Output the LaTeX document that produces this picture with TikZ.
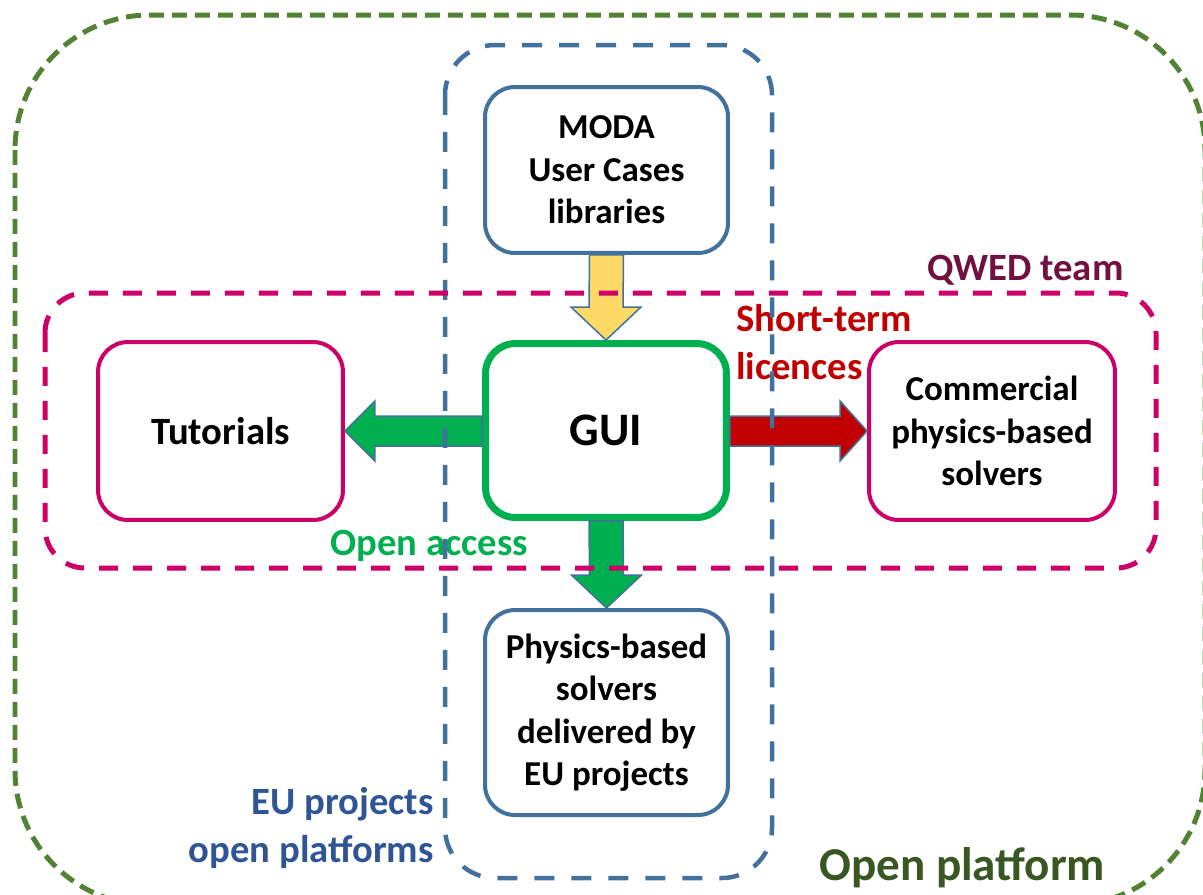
\documentclass[tikz,border=0pt]{standalone}
\usepackage{fontspec}
\setmainfont{Carlito}
\usetikzlibrary{
  calc,
  positioning
}
\definecolor{platgreen}{HTML}{548235}
\definecolor{platdark}{HTML}{385723}
\definecolor{eublue}{HTML}{41719C}
\definecolor{eutext}{HTML}{2F5597}
\definecolor{qwedpink}{HTML}{CC0066}
\definecolor{qwedtext}{HTML}{72103F}
\definecolor{guigreen}{HTML}{00B050}
\definecolor{licred}{HTML}{C00000}
\definecolor{modayellow}{HTML}{FFD966}
\tikzset{
  x = 0.02cm,
  y = -0.02cm,
  box/.style = {draw, fill=white, line width=0.08cm, rounded corners=0.6cm,
                align=center, inner sep=0pt,
                font=\bfseries\fontsize{19.9}{24.2}\selectfont},
  fat arrow/.style = {draw=eublue, line width=0.03cm, line join=miter},
  label text/.style = {inner sep=0pt, font=\bfseries\fontsize{22}{27.5}\selectfont},
}
\begin{document}
\begin{tikzpicture}
\useasboundingbox (0,0) rectangle (1203,894);
% boxes
\node (moda)[box, draw=eublue, minimum width=4.86cm, minimum height=3.32cm]
      at (606.5,170) {MODA\\User Cases\\libraries};
\node (gui)[box, draw=guigreen, line width=0.14cm, minimum width=4.82cm, minimum height=3.48cm,
      font=\bfseries\fontsize{26.5}{32}\selectfont] at (606,430.5) {GUI};
\node (tut)[box, draw=qwedpink, minimum width=4.9cm, minimum height=3.56cm,
      font=\bfseries\fontsize{22}{27}\selectfont] at (220.5,431) {Tutorials};
\node (comm)[box, draw=qwedpink, minimum width=4.92cm, minimum height=3.56cm]
      at (992,431) {Commercial\\physics-based\\solvers};
\node (phys)[box, draw=eublue, minimum width=4.86cm, minimum height=4.1cm]
      at (606.5,712.5) {Physics-based\\solvers\\delivered by\\EU projects};
% block arrows
\draw[fat arrow, fill=modayellow]
      ($(moda.south)+(-17,0)$) -- ($(gui.north)+(-17,-33)$) -- ($(gui.north)+(-35,-33)$)
      -- (gui.north) -- ($(gui.north)+(35,-33)$) -- ($(gui.north)+(17,-33)$)
      -- ($(moda.south)+(17,0)$) -- cycle;
\draw[fat arrow, fill=guigreen]
      ($(gui.west |- tut.east)+(0,-15)$) -- ($(tut.east)+(30,-15)$) -- ($(tut.east)+(30,-30)$)
      -- (tut.east) -- ($(tut.east)+(30,30)$) -- ($(tut.east)+(30,15)$)
      -- ($(gui.west |- tut.east)+(0,15)$) -- cycle;
\draw[fat arrow, fill=licred]
      ($(gui.east |- comm.west)+(0,-15)$) -- ($(comm.west)+(-27,-15)$) -- ($(comm.west)+(-27,-30)$)
      -- (comm.west) -- ($(comm.west)+(-27,30)$) -- ($(comm.west)+(-27,15)$)
      -- ($(gui.east |- comm.west)+(0,15)$) -- cycle;
\draw[fat arrow, fill=guigreen]
      ($(gui.south)+(-17,0)$) -- ($(phys.north)+(-17,-33)$) -- ($(phys.north)+(-35,-33)$)
      -- (phys.north) -- ($(phys.north)+(35,-33)$) -- ($(phys.north)+(17,-33)$)
      -- ($(gui.south)+(17,0)$) -- cycle;
% labels
\node (qwed)[label text, text=qwedtext, anchor=base west] at (927,280) {QWED team};
\node (short)[label text, text=licred, align=left, anchor=west] at (736,342) {Short-term\\licences};
\node (open)[label text, text=guigreen, anchor=base west] at (330,555) {Open access};
\node (eu)[label text, text=eutext, align=right, anchor=east] at (434,828) {EU projects\\open platforms};
\node (plat)[inner sep=0pt, text=platdark, anchor=base west,
      font=\bfseries\fontsize{26.8}{32}\selectfont] at (819,880) {Open platform};
% dashed areas
\draw[platgreen, line width=0.1cm, dash pattern=on 0.3cm off 0.16cm, rounded corners=2.7cm]
      (15,15) rectangle (1205,905);
\draw[eublue, line width=0.09cm, dash pattern=on 0.4cm off 0.34cm, rounded corners=1cm]
      (445,45) rectangle (772,878);
\draw[qwedpink, line width=0.1cm, dash pattern=on 0.38cm off 0.3cm, rounded corners=0.8cm]
      (45,293) rectangle (1156,568);
\end{tikzpicture}
\end{document}
